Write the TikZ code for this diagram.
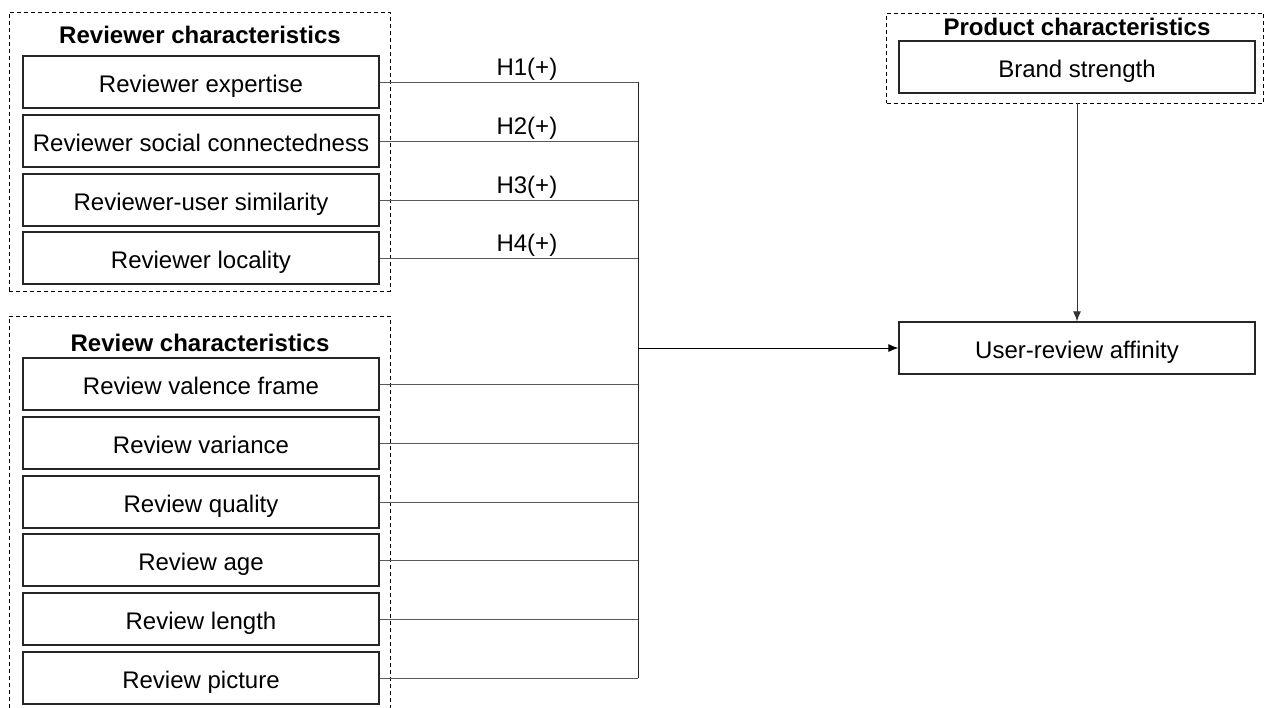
\documentclass[tikz,border=0pt]{standalone}
\usepackage{fontspec}
\setmainfont{Liberation Sans}
\usetikzlibrary{arrows.meta}

\tikzstyle{factor}=[draw=black!85,line width=1.3pt,minimum width=356pt,
                    minimum height=52pt,inner sep=0pt,
                    text height=21pt,text depth=0pt,
                    font=\fontsize{24}{27}\selectfont]
\tikzstyle{group}=[draw,line width=0.8pt,dash pattern=on 4pt off 3pt,
                   inner sep=0pt]
\tikzstyle{title}=[font=\fontsize{24}{27}\selectfont\bfseries]
\tikzstyle{hyp}=[font=\fontsize{24}{27}\selectfont,above,inner sep=1pt]
\tikzstyle{link}=[draw=black!65,line width=0.8pt]
\tikzstyle{arr}=[draw=black,line width=0.9pt,-{Latex[length=10pt,width=8pt]}]

\begin{document}
\begin{tikzpicture}[x=1pt,y=-1pt]
  \useasboundingbox (0,0) rectangle (1264,708);

  % groups
  \node[group,minimum width=381pt,minimum height=279pt] (rergrp) at (199.5,151.5) {};
  \node[group,minimum width=381pt,minimum height=404pt] (revgrp) at (199.5,518) {};
  \node[group,minimum width=377pt,minimum height=90pt] (prodgrp) at (1075,58) {};

  \node[title] (rertitle) at (200,35) {Reviewer characteristics};
  \node[title] (revtitle) at (200,343) {Review characteristics};
  \node[title] (prodtitle) at (1077,27) {Product characteristics};

  % reviewer characteristics
  \node[factor] (rer1) at (201,82) {Reviewer expertise};
  \node[factor] (rer2) at (201,141) {Reviewer social connectedness};
  \node[factor] (rer3) at (201,200) {Reviewer-user similarity};
  \node[factor] (rer4) at (201,258) {Reviewer locality};

  % review characteristics
  \node[factor] (rev1) at (201,384) {Review valence frame};
  \node[factor] (rev2) at (201,443) {Review variance};
  \node[factor] (rev3) at (201,502) {Review quality};
  \node[factor] (rev4) at (201,560) {Review age};
  \node[factor] (rev5) at (201,619) {Review length};
  \node[factor] (rev6) at (201,678) {Review picture};

  % product and outcome
  \node[factor] (brand) at (1077,67) {Brand strength};
  \node[factor] (aff) at (1077,348) {User-review affinity};

  \coordinate (bus) at (638,0);

  \path[link] (rer1.east) -- node[hyp,pos=0.57] {H1(+)} (rer1.east -| bus);
  \path[link] (rer2.east) -- node[hyp,pos=0.57] {H2(+)} (rer2.east -| bus);
  \path[link] (rer3.east) -- node[hyp,pos=0.57] {H3(+)} (rer3.east -| bus);
  \path[link] (rer4.east) -- node[hyp,pos=0.57] {H4(+)} (rer4.east -| bus);

  \path[link] (rev1.east) -- (rev1.east -| bus);
  \path[link] (rev2.east) -- (rev2.east -| bus);
  \path[link] (rev3.east) -- (rev3.east -| bus);
  \path[link] (rev4.east) -- (rev4.east -| bus);
  \path[link] (rev5.east) -- (rev5.east -| bus);
  \path[link] (rev6.east) -- (rev6.east -| bus);

  \draw[link,draw=black!85] (rer1.east -| bus) -- (rev6.east -| bus);
  \draw[arr] (aff.west -| bus) -- (aff.west);
  \draw[arr,draw=black!80] (aff.north |- prodgrp.south) -- (aff.north);

\end{tikzpicture}
\end{document}
